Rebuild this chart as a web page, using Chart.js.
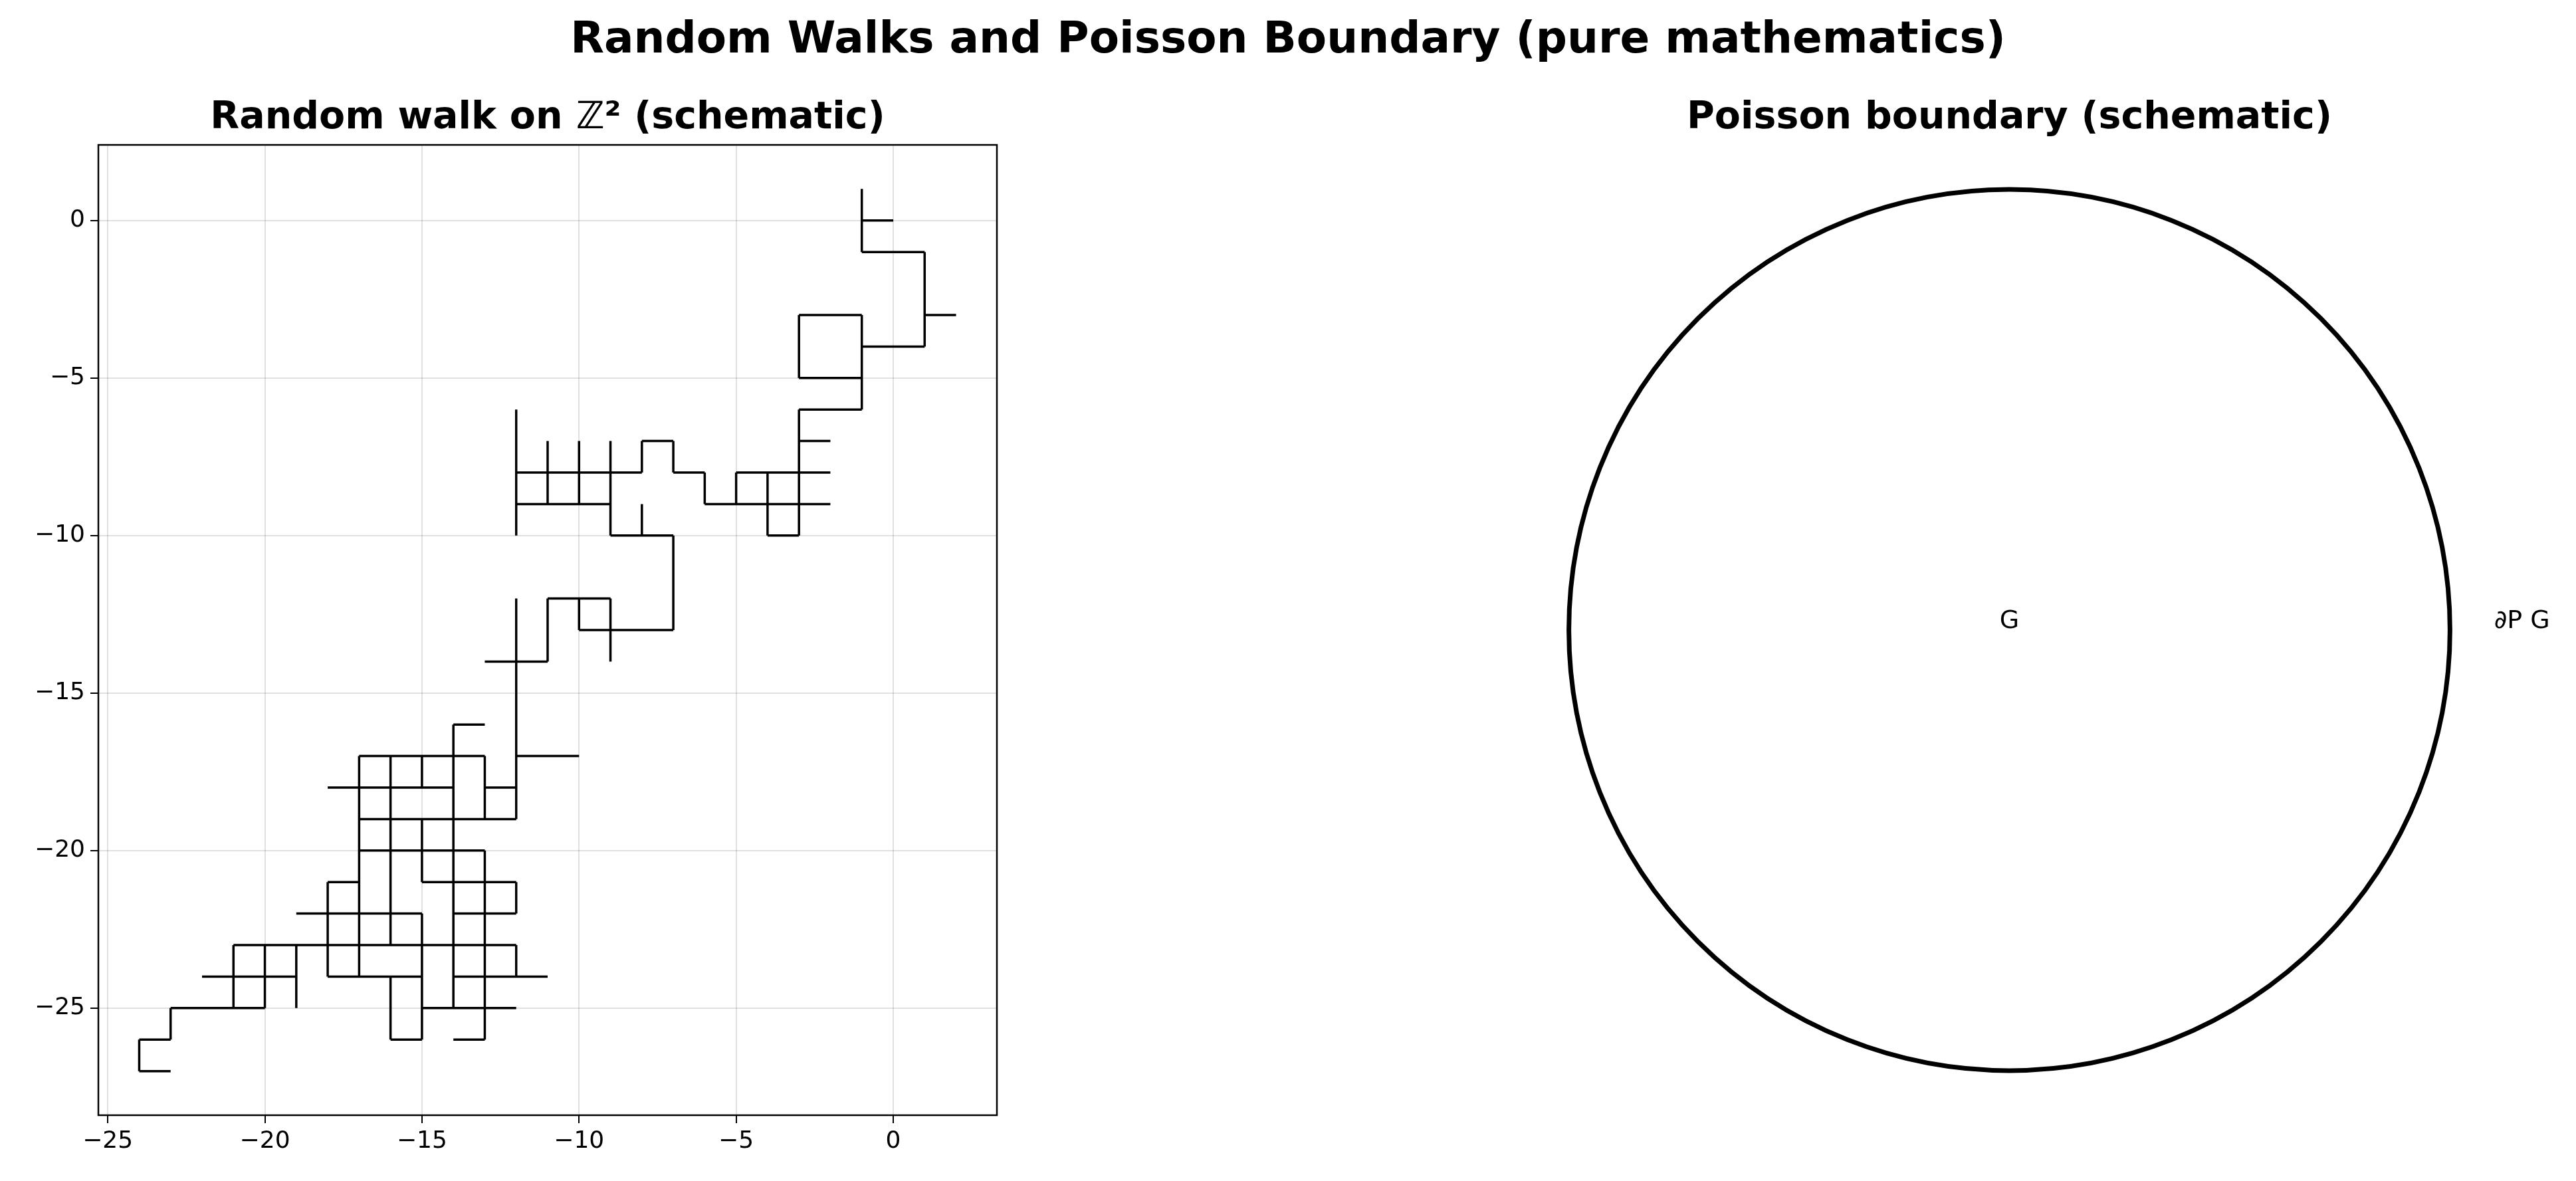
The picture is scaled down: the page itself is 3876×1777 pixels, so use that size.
<!DOCTYPE html>
<html>
<head>
<meta charset="utf-8">
<script src="https://cdn.jsdelivr.net/npm/chart.js@4"></script>
<style>
  body { margin: 0; width: 3876px; height: 1777px; background: #fff; position: relative; font-family: 'DejaVu Sans', sans-serif; overflow: hidden; }
  .title { position: absolute; font-weight: bold; color: #000; text-align: center; white-space: nowrap; }
  canvas { position: absolute; }
</style>
</head>
<body>
<div class="title" style="left:0;width:3876px;top:18px;font-size:66px;">Random Walks and Poisson Boundary (pure mathematics)</div>
<div class="title" style="left:148px;width:1352px;top:140px;font-size:57px;">Random walk on ℤ² (schematic)</div>
<div class="title" style="left:2293px;width:1461px;top:140px;font-size:57px;">Poisson boundary (schematic)</div>
<div style="position:absolute;left:0;top:0;width:1560px;height:1777px;"><canvas id="walk"></canvas></div>
<div style="position:absolute;left:2100px;top:0;width:1776px;height:1777px;"><canvas id="boundary"></canvas></div>
<script>
// walk edges: horizontal [y, x1, x2], vertical [x, y1, y2]
const walkH = [
  [0, -1, 0], [-1, -1, 1], [-3, 1, 2], [-3, -3, -1], [-4, -1, 1], [-5, -3, -1],
  [-6, -3, -1], [-7, -3, -2], [-7, -8, -7], [-8, -12, -8], [-8, -7, -6], [-8, -5, -2],
  [-9, -12, -9], [-9, -6, -2], [-10, -9, -7], [-10, -4, -3], [-12, -11, -9], [-13, -10, -7],
  [-14, -13, -11], [-16, -14, -13], [-17, -17, -13], [-17, -12, -10], [-18, -18, -14],
  [-18, -13, -12], [-19, -17, -12], [-20, -17, -13], [-21, -18, -17], [-21, -15, -12],
  [-22, -19, -15], [-22, -14, -12], [-23, -21, -12], [-24, -22, -19], [-24, -18, -15],
  [-24, -14, -11], [-25, -23, -20], [-25, -15, -12], [-26, -24, -23], [-26, -16, -15],
  [-26, -14, -13], [-27, -24, -23]
];
const walkV = [
  [-1, 1, -1], [1, -1, -4], [-3, -3, -5], [-1, -3, -6], [-3, -6, -10], [-12, -6, -10],
  [-11, -7, -9], [-10, -7, -9], [-9, -7, -10], [-8, -7, -8], [-7, -7, -8], [-6, -8, -9],
  [-8, -9, -10], [-5, -8, -9], [-4, -8, -10], [-7, -10, -13], [-12, -12, -19],
  [-11, -12, -14], [-10, -12, -13], [-9, -12, -14], [-14, -16, -25], [-13, -17, -19],
  [-17, -17, -24], [-16, -17, -23], [-16, -24, -26], [-15, -17, -18], [-15, -19, -21],
  [-15, -22, -26], [-13, -20, -26], [-18, -21, -24], [-12, -21, -22], [-12, -23, -24],
  [-21, -23, -25], [-20, -23, -25], [-19, -23, -25], [-23, -25, -26], [-24, -26, -27]
];
const xTicks = [-25, -20, -15, -10, -5, 0];
const yTicks = [0, -5, -10, -15, -20, -25];
const boundaryLabels = [
  { text: 'G', x: 0, y: 0.02, align: 'center' },
  { text: '∂P G', x: 1.1, y: 0.02, align: 'left' }
];

const walkSets = [];
walkH.forEach(s => walkSets.push({ data: [{ x: s[1], y: s[0] }, { x: s[2], y: s[0] }] }));
walkV.forEach(s => walkSets.push({ data: [{ x: s[0], y: s[1] }, { x: s[0], y: s[2] }] }));
walkSets.forEach(d => {
  d.borderColor = '#000';
  d.borderWidth = 3.5;
  d.pointRadius = 0;
  d.fill = false;
});

const tickFont = { family: 'DejaVu Sans', size: 36 };
const boxPlugin = {
  id: 'box',
  afterDraw(chart) {
    const a = chart.chartArea, ctx = chart.ctx;
    ctx.save();
    ctx.strokeStyle = '#000';
    ctx.lineWidth = 2.5;
    ctx.strokeRect(a.left, a.top, a.right - a.left, a.bottom - a.top);
    ctx.restore();
  }
};

new Chart(document.getElementById('walk'), {
  type: 'line',
  data: { datasets: walkSets },
  plugins: [boxPlugin],
  options: {
    responsive: true,
    maintainAspectRatio: false,
    animation: false,
    layout: { padding: { top: 218, right: 60, left: 0, bottom: 0 } },
    plugins: { legend: { display: false }, tooltip: { enabled: false } },
    scales: {
      x: {
        type: 'linear', min: -25.3, max: 3.3,
        afterBuildTicks: s => { s.ticks = xTicks.map(v => ({ value: v })); },
        afterFit: s => { s.height = 99; },
        grid: { color: 'rgba(0,0,0,0.12)', lineWidth: 2, tickLength: 12, tickColor: '#000', tickWidth: 2 },
        border: { display: false },
        ticks: { color: '#000', font: tickFont, padding: 6, maxRotation: 0, callback: v => String(v).replace('-', '−') }
      },
      y: {
        type: 'linear', min: -28.4, max: 2.4,
        afterBuildTicks: s => { s.ticks = yTicks.map(v => ({ value: v })); },
        afterFit: s => { s.width = 148; },
        grid: { color: 'rgba(0,0,0,0.12)', lineWidth: 2, tickLength: 12, tickColor: '#000', tickWidth: 2 },
        border: { display: false },
        ticks: { color: '#000', font: tickFont, padding: 8, callback: v => String(v).replace('-', '−') }
      }
    }
  }
});

// circle and labels drawn through the boundary chart's scales
const circlePlugin = {
  id: 'circle',
  afterDatasetsDraw(chart) {
    const xs = chart.scales.x, ys = chart.scales.y, ctx = chart.ctx;
    const cx = xs.getPixelForValue(0), cy = ys.getPixelForValue(0);
    const r = xs.getPixelForValue(1) - cx;
    ctx.save();
    ctx.beginPath();
    ctx.arc(cx, cy, r, 0, Math.PI * 2);
    ctx.strokeStyle = '#000';
    ctx.lineWidth = 7;
    ctx.stroke();
    ctx.fillStyle = '#000';
    ctx.font = '38px "DejaVu Sans"';
    ctx.textBaseline = 'middle';
    boundaryLabels.forEach(l => {
      ctx.textAlign = l.align;
      ctx.fillText(l.text, xs.getPixelForValue(l.x), ys.getPixelForValue(l.y));
    });
    ctx.restore();
  }
};

new Chart(document.getElementById('boundary'), {
  type: 'scatter',
  data: { datasets: [{ data: [{ x: 0, y: 0 }], pointRadius: 0 }] },
  plugins: [circlePlugin],
  options: {
    responsive: true,
    maintainAspectRatio: false,
    animation: false,
    layout: { padding: { top: 218, left: 193, right: 122, bottom: 99 } },
    plugins: { legend: { display: false }, tooltip: { enabled: false } },
    scales: {
      x: { type: 'linear', min: -1.102, max: 1.102, display: false },
      y: { type: 'linear', min: -1.102, max: 1.102, display: false }
    }
  }
});
</script>
</body>
</html>
